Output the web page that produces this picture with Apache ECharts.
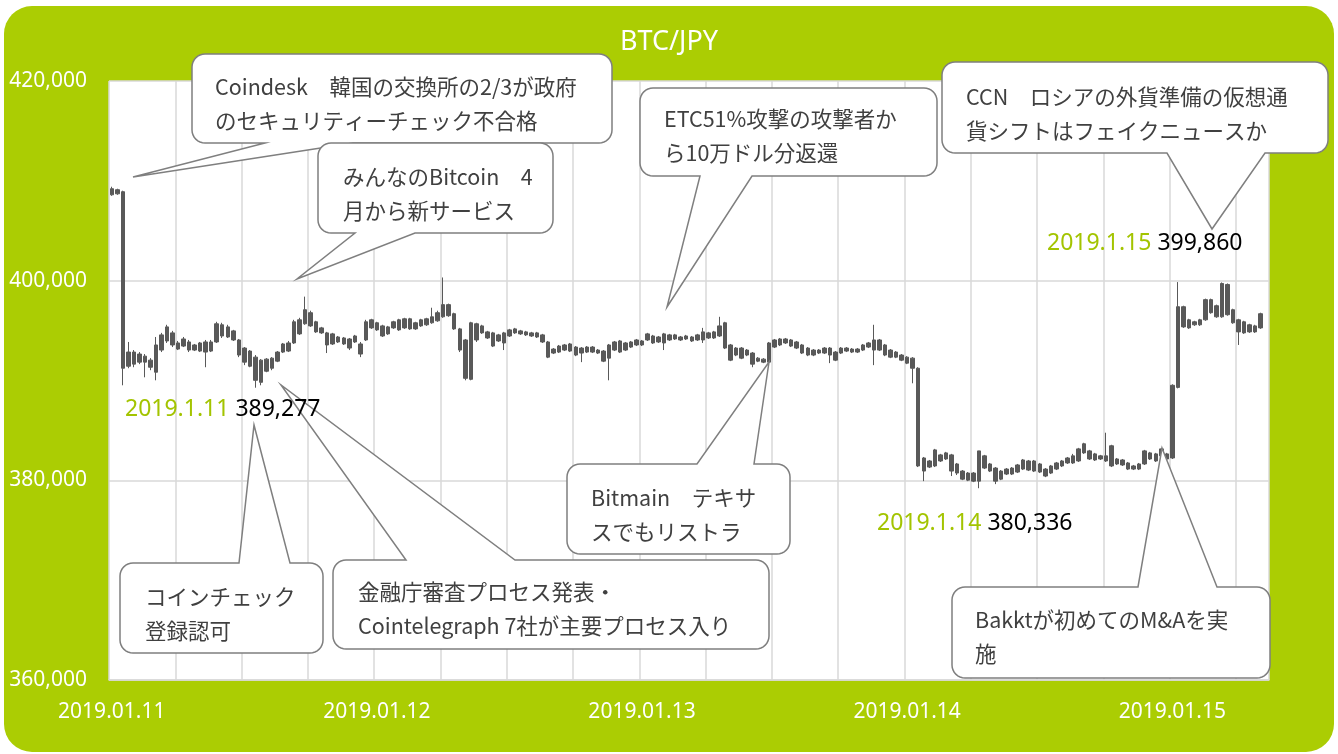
<!DOCTYPE html>
<html>
<head>
<meta charset="utf-8">
<title>BTC/JPY</title>
<script src="https://cdn.jsdelivr.net/npm/echarts@6.0.0/dist/echarts.min.js"></script>
<style>
    body { margin: 0; background: #fff; }
    #wrap { position: relative; width: 1338px; height: 754px; }
    #bg { position: absolute; left: 4px; top: 6px; width: 1330px; height: 746px; background: #abcd03; border-radius: 28px; }
    #chart { position: absolute; left: 0; top: 0; width: 1338px; height: 754px; }
</style>
</head>
<body>
<div id="wrap">
    <div id="bg"></div>
    <div id="chart"></div>
</div>
<script>
// 30分足 2019.01.11 00:00 から 210本
var startTime = Date.UTC(2019, 0, 11, 0, 0)
var stepMin = 30
var barCount = 210

var yTicks = [360000, 380000, 400000, 420000]

var opens = [
    408600, 409110, 408910, 391430, 392850, 391840, 392440, 392040, 390830, 393050, 393960, 394770,
    393760, 393450, 393860, 393050, 393760, 392850, 393860, 393860, 395580, 394360, 394970, 394060,
    393250, 392950, 392340, 389820, 392140, 391230, 391940, 392850, 393760, 393760, 394670, 395680,
    396790, 395880, 395270, 394770, 393660, 394360, 393660, 394160, 393860, 393660, 394060, 395270,
    395780, 395470, 394670, 395270, 395070, 396180, 395170, 395780, 395470, 395580, 395780, 395980,
    396380, 397600, 396690, 395170, 394060, 390120, 395680, 394770, 394870, 394770, 393960, 394770,
    394460, 394770, 394970, 394870, 394770, 394360, 394570, 393860, 392750, 392850, 393560, 392950,
    393350, 392750, 393350, 392850, 393050, 392950, 392240, 393050, 393960, 393050, 393350, 393560,
    393960, 394060, 394460, 393860, 393760, 394570, 394160, 394360, 394160, 394360, 394060, 394060,
    394770, 394260, 394460, 395780, 393560, 392550, 393250, 392550, 392750, 392240, 392140, 391840,
    393350, 394160, 393760, 394060, 393860, 393560, 393250, 392550, 393050, 392750, 393250, 392040,
    392750, 393250, 392850, 393150, 393050, 393350, 394060, 393050, 393560, 393050, 392340, 392550,
    392340, 392240, 391230, 380930, 381940, 381440, 382550, 382140, 382550, 381640, 380930, 380730,
    379920, 379920, 382450, 381640, 381230, 380120, 380630, 381230, 380830, 381130, 381940, 380930,
    381640, 381130, 380730, 381130, 381440, 381740, 381740, 381940, 382750, 382950, 382650, 382140,
    382450, 381440, 382140, 382040, 381740, 381440, 381130, 381640, 382750, 381940, 382450, 382650,
    382240, 389310, 397390, 395270, 395880, 395580, 396080, 398100, 396380, 396380, 399620, 397090,
    396080, 394770, 395580, 394870, 395270
]
var closes = [
    409210, 408700, 391230, 392850, 391640, 392650, 391840, 391330, 393560, 394570, 395370, 393560,
    393150, 394160, 393050, 393560, 392950, 393860, 392950, 395680, 394460, 395370, 394060, 392550,
    391840, 391430, 390020, 392040, 390930, 392240, 392850, 393660, 392950, 395880, 396080, 397090,
    395470, 394870, 394770, 393560, 394670, 393860, 394260, 393250, 394460, 392650, 395880, 396080,
    395070, 394460, 395370, 395880, 396080, 395270, 396180, 395170, 396080, 396180, 396380, 396790,
    397600, 396490, 395170, 393050, 390220, 395780, 394060, 395470, 394260, 393450, 394570, 393760,
    395070, 395170, 394670, 394570, 394460, 394770, 393860, 392340, 393150, 393450, 393050, 393660,
    392550, 393250, 392850, 393350, 392750, 391940, 393560, 393860, 392850, 393760, 393860, 394060,
    393560, 394670, 393760, 394360, 394670, 394060, 394570, 394060, 394460, 393960, 394570, 394870,
    394260, 394870, 395470, 393250, 392040, 393250, 392240, 393050, 391640, 391940, 391840, 393760,
    394060, 393560, 394160, 393450, 393250, 392750, 392550, 393050, 392750, 393250, 392550, 392850,
    393250, 392950, 393150, 392850, 393560, 393760, 393050, 394060, 392550, 392340, 392850, 392040,
    391740, 391230, 381440, 382240, 381330, 383050, 381940, 382750, 380930, 380730, 380120, 380020,
    380730, 382950, 381230, 380930, 379920, 380930, 381130, 380630, 381540, 382040, 381030, 381940,
    380830, 380430, 381440, 381740, 381940, 382240, 382450, 383150, 383660, 382140, 382040, 382450,
    381940, 383460, 381640, 381540, 381130, 381130, 381640, 382950, 382140, 382650, 383150, 382140,
    389520, 397390, 395370, 396080, 395580, 396080, 398100, 396790, 397490, 399720, 396590, 395780,
    394870, 395880, 394870, 395470, 396690
]
var lows = [
    408500, 408600, 389520, 391230, 391330, 391640, 390320, 391030, 390020, 392850, 393760, 393350,
    393050, 393350, 392850, 392950, 392850, 391330, 392850, 393760, 394260, 394260, 393960, 392340,
    391540, 391330, 389277, 389520, 390830, 391030, 391840, 392750, 392850, 393660, 394570, 395580,
    395370, 394770, 394670, 392750, 393560, 393760, 393560, 393050, 393760, 392340, 393960, 395170,
    394970, 394360, 394570, 395170, 394970, 395170, 395070, 395070, 395370, 395470, 395680, 395880,
    396280, 396380, 395070, 392850, 390020, 390020, 393860, 394670, 394160, 393350, 393860, 393050,
    394360, 394670, 394570, 394460, 394360, 394260, 393760, 392240, 392650, 392750, 392950, 392850,
    392440, 391840, 392750, 392750, 392650, 391840, 390020, 392950, 392750, 392950, 393250, 393450,
    393450, 393960, 393660, 393760, 393050, 393960, 394060, 393960, 394060, 393860, 393960, 393760,
    394160, 394160, 394360, 393150, 391940, 392440, 392140, 392440, 391330, 391840, 391740, 391740,
    393250, 393450, 393660, 393350, 393150, 392650, 392440, 392440, 392650, 392650, 391740, 391940,
    392650, 392850, 392750, 392750, 392950, 393250, 391540, 392950, 392440, 392240, 392240, 391940,
    391640, 389720, 381330, 379920, 381230, 381330, 381840, 382040, 380430, 380530, 380020, 379920,
    379820, 379210, 381130, 380830, 379620, 380020, 380530, 380530, 380730, 381030, 380930, 380830,
    380730, 380320, 380630, 381030, 381330, 381640, 381640, 381840, 382650, 382040, 381940, 382040,
    381840, 381330, 381540, 381440, 381030, 381030, 381030, 381540, 382040, 381840, 382340, 382040,
    382140, 389210, 395270, 395170, 395470, 395470, 395980, 396690, 396280, 396280, 396490, 395680,
    393560, 394670, 394770, 394770, 395170
]
var highs = [
    409410, 409210, 409010, 393860, 393050, 392850, 392650, 392240, 394360, 394770, 395580, 394970,
    393960, 394360, 394060, 393660, 393860, 394060, 394060, 395880, 395780, 395580, 395070, 394160,
    393350, 393050, 392550, 392140, 392240, 392340, 392950, 393760, 393960, 396080, 396280, 398400,
    396990, 395980, 395370, 394870, 394770, 394460, 394360, 394260, 394570, 393860, 396080, 396180,
    395880, 395580, 395470, 395980, 396180, 396280, 396280, 395880, 396180, 396280, 397290, 396990,
    400320, 397700, 396790, 395270, 394160, 395880, 395780, 395580, 394970, 394870, 394670, 394870,
    395170, 395270, 395070, 394970, 394870, 394870, 394670, 393960, 393250, 393560, 393660, 393760,
    393450, 393350, 393450, 393450, 393150, 393050, 393660, 393960, 394060, 393860, 393960, 394160,
    394060, 394770, 394570, 394460, 394770, 394670, 394670, 394460, 394570, 394460, 394670, 395270,
    394870, 394970, 396380, 395880, 393660, 393350, 393350, 393150, 392850, 392340, 392240, 393860,
    394160, 394260, 394260, 394160, 393960, 393660, 393350, 393150, 393150, 393350, 393350, 392950,
    393350, 393350, 393250, 393250, 393660, 393860, 395580, 394160, 393660, 393150, 392950, 392650,
    392440, 392340, 391330, 382340, 382040, 383150, 382650, 382850, 382650, 381740, 381030, 380830,
    380830, 382950, 382550, 381740, 381330, 381030, 381230, 381330, 381640, 382140, 382040, 382040,
    381740, 381230, 381540, 381840, 382040, 382340, 382650, 383250, 383760, 383050, 382750, 382550,
    384770, 383560, 382240, 382140, 381840, 381540, 381740, 383050, 382850, 382750, 383250, 382750,
    389620, 399860, 397490, 396180, 395980, 396180, 398200, 398200, 397600, 399820, 399720, 397190,
    396180, 395980, 395680, 395580, 396790
]

// 吹き出しの文言
var calloutTexts = [
    ['Coindesk　韓国の交換所の2/3が政府', 'のセキュリティーチェック不合格'],
    ['みんなのBitcoin　4', '月から新サービス'],
    ['ETC51%攻撃の攻撃者か', 'ら10万ドル分返還'],
    ['CCN　ロシアの外貨準備の仮想通', '貨シフトはフェイクニュースか'],
    ['Bitmain　テキサ', 'スでもリストラ'],
    ['コインチェック', '登録認可'],
    ['金融庁審査プロセス発表・', 'Cointelegraph 7社が主要プロセス入り'],
    ['Bakktが初めてのM&Aを実', '施']
]
var markDates = ['2019.1.11', '2019.1.14', '2019.1.15']
var markValues = [389277, 380336, 399860]

function pad(n) {
    return n < 10 ? '0' + n : '' + n
}

var categories = []
for (var i = 0; i < barCount; i++) {
    var d = new Date(startTime + i * stepMin * 60000)
    categories.push(d.getUTCFullYear() + '.' + pad(d.getUTCMonth() + 1) + '.' + pad(d.getUTCDate()) +
        ' ' + pad(d.getUTCHours()) + ':' + pad(d.getUTCMinutes()))
}

var candles = opens.map(function (o, i) {
    return [o, closes[i], lows[i], highs[i]]
})

// 吹き出しのレイアウト (px)
var calloutLayout = [
    { box: [192, 54, 420, 89], side: 'bottom', base: [265, 353], tip: [133, 177], tx: 215, ty: 87 },
    { box: [318, 143, 235, 90], side: 'bottom', base: [355, 415], tip: [297, 279], tx: 343, ty: 177 },
    { box: [640, 88, 297, 88], side: 'bottom', base: [700, 752], tip: [667, 307], tx: 664, ty: 119 },
    { box: [942, 62, 386, 91], side: 'bottom', base: [1167, 1265], tip: [1212, 229], tx: 966, ty: 97 },
    { box: [567, 464, 223, 90], side: 'top', base: [697, 754], tip: [769, 362], tx: 591, ty: 498 },
    { box: [120, 563, 203, 90], side: 'top', base: [239, 290], tip: [254, 425], tx: 145, ty: 597 },
    { box: [333, 560, 436, 89], side: 'top', base: [406, 515], tip: [281, 385], tx: 358, ty: 592 },
    { box: [952, 587, 318, 91], side: 'top', base: [1138, 1217], tip: [1162, 448], tx: 975, ty: 620 }
]
var markLayout = [[125, 409], [877, 523], [1047, 243]]

function arcPoints(cx, cy, r, a0, a1) {
    var pts = []
    for (var k = 0; k <= 8; k++) {
        var a = (a0 + (a1 - a0) * k / 8) * Math.PI / 180
        pts.push([cx + r * Math.cos(a), cy + r * Math.sin(a)])
    }
    return pts
}

function calloutPoints(c) {
    var x = c.box[0], y = c.box[1], x2 = x + c.box[2], y2 = y + c.box[3], r = 13
    var pts = [[x + r, y]]
    if (c.side === 'top') {
        pts.push([c.base[0], y], c.tip, [c.base[1], y])
    }
    pts = pts.concat(arcPoints(x2 - r, y + r, r, -90, 0))
    pts = pts.concat(arcPoints(x2 - r, y2 - r, r, 0, 90))
    if (c.side === 'bottom') {
        pts.push([c.base[1], y2], c.tip, [c.base[0], y2])
    }
    pts = pts.concat(arcPoints(x + r, y2 - r, r, 90, 180))
    pts = pts.concat(arcPoints(x + r, y + r, r, 180, 270))
    return pts
}

var graphics = []
calloutLayout.forEach(function (c, i) {
    graphics.push({
        type: 'polygon',
        z: 10,
        shape: { points: calloutPoints(c) },
        style: { fill: '#fff', stroke: '#7f7f7f', lineWidth: 1.5 }
    })
    graphics.push({
        type: 'text',
        z: 11,
        x: c.tx,
        y: c.ty - 17,
        style: {
            text: calloutTexts[i].join('\n'),
            fill: '#404040',
            fontSize: 21.5,
            fontFamily: '"Noto Sans CJK JP", sans-serif',
            lineHeight: 34,
            verticalAlign: 'top'
        }
    })
})
markLayout.forEach(function (p, i) {
    graphics.push({
        type: 'text',
        z: 12,
        x: p[0],
        y: p[1],
        style: {
            text: '{d|' + markDates[i] + '} {v|' + markValues[i].toLocaleString('en-US') + '}',
            verticalAlign: 'middle',
            fontSize: 23,
            fontFamily: '"Noto Sans", sans-serif',
            rich: {
                d: { fill: '#a3c400', fontSize: 23, fontFamily: '"Noto Sans", sans-serif' },
                v: { fill: '#000', fontSize: 23, fontFamily: '"Noto Sans", sans-serif' }
            }
        }
    })
})

var myChart = echarts.init(document.getElementById('chart'))
var option = {
    animation: false,
    title: {
        text: 'BTC/JPY',
        left: 'center',
        top: 24,
        textStyle: { color: '#fff', fontSize: 27, fontWeight: 'normal', fontFamily: '"Noto Sans", sans-serif' }
    },
    grid: {
        left: 109,
        right: 69,
        top: 81,
        bottom: 74,
        show: true,
        backgroundColor: '#fff',
        borderWidth: 0,
        outerBoundsMode: 'none'
    },
    xAxis: {
        type: 'category',
        data: categories,
        boundaryGap: true,
        axisLine: { show: true, lineStyle: { color: '#d9d9d9', width: 1.5 } },
        axisTick: { show: false },
        axisLabel: {
            interval: function (index) { return index % 48 === 0 },
            formatter: function (v) { return v.slice(0, 10) },
            color: '#fff',
            fontSize: 21,
            fontFamily: '"Noto Sans", sans-serif',
            margin: 22
        },
        splitLine: {
            show: true,
            interval: function (index) { return index % 12 === 0 },
            lineStyle: { color: '#d9d9d9', width: 1.5 }
        }
    },
    yAxis: {
        type: 'value',
        min: yTicks[0],
        max: yTicks[yTicks.length - 1],
        interval: yTicks[1] - yTicks[0],
        axisLine: { show: false },
        axisTick: { show: false },
        axisLabel: {
            color: '#fff',
            fontSize: 21,
            fontFamily: '"Noto Sans", sans-serif',
            margin: 22,
            formatter: function (v) { return v.toLocaleString('en-US') }
        },
        splitLine: { lineStyle: { color: '#d9d9d9', width: 1.5 } }
    },
    series: [{
        type: 'candlestick',
        data: candles,
        barWidth: 4,
        itemStyle: {
            color: '#595959',
            color0: '#595959',
            borderColor: '#595959',
            borderColor0: '#595959',
            borderWidth: 1
        }
    }],
    graphic: graphics
}
myChart.setOption(option)
</script>
</body>
</html>
